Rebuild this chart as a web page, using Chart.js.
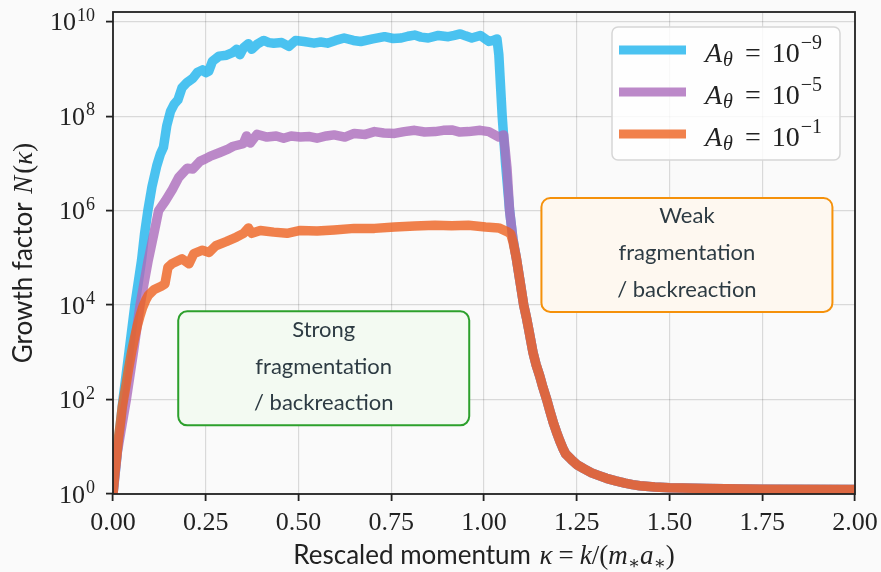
<!DOCTYPE html>
<html><head><meta charset="utf-8">
<script src="https://cdn.jsdelivr.net/npm/chart.js@4.4.1/dist/chart.umd.min.js"></script>
<style>html,body{margin:0;padding:0;background:#fafafa;}canvas{display:block}</style>
</head><body>
<canvas id="c" width="881" height="572"></canvas>
<script>
// ---------------- data ----------------
const seriesExponents = ['\u22129', '\u22125', '\u22121'];   // A_theta = 10^x

const kappaBlue = [0,0.013,0.027,0.043,0.059,0.077,0.085,0.094,0.105,0.118,0.128,0.136,0.145,0.155,0.165,0.175,0.186,0.2,0.215,0.228,0.241,0.25,0.258,0.268,0.286,0.306,0.322,0.333,0.342,0.352,0.365,0.374,0.39,0.406,0.42,0.433,0.455,0.474,0.492,0.515,0.542,0.56,0.578,0.6,0.623,0.648,0.668,0.7,0.732,0.755,0.777,0.795,0.813,0.83,0.85,0.877,0.904,0.92,0.936,0.95,0.967,0.99,1.013,1.025,1.035,1.04,1.049,1.058,1.069,1.078];
const nBlue = [1,10,100,1e3,1e4,8.9e4,3.2e5,1e6,3.2e6,8.9e6,1.6e7,2.2e7,6.3e7,1.26e8,1.8e8,2.2e8,4.0e8,5.2e8,6.3e8,8.5e8,9.5e8,8.3e8,8.9e8,1.45e9,1.86e9,1.95e9,2.2e9,2.6e9,2.0e9,2.8e9,3.4e9,2.6e9,3.4e9,4.0e9,3.6e9,3.5e9,3.6e9,3.0e9,4.0e9,3.8e9,3.5e9,3.7e9,3.5e9,4.0e9,4.5e9,4.0e9,3.8e9,4.3e9,4.8e9,4.4e9,4.5e9,4.9e9,5.2e9,4.7e9,4.5e9,5.1e9,4.8e9,5.1e9,5.5e9,5.0e9,4.5e9,5.1e9,3.8e9,4.0e9,4.3e9,2.0e9,1e8,1e7,1e6,2.5e5];

const kappaPurple = [0,0.012,0.036,0.055,0.073,0.095,0.11,0.123,0.141,0.16,0.177,0.2,0.215,0.234,0.25,0.261,0.288,0.31,0.324,0.351,0.36,0.37,0.388,0.415,0.44,0.46,0.48,0.505,0.53,0.55,0.575,0.596,0.625,0.65,0.68,0.705,0.73,0.759,0.785,0.813,0.84,0.868,0.89,0.913,0.935,0.958,0.99,1.013,1.04,1.053,1.062,1.069,1.078];
const nPurple = [1,8,100,1e3,1e4,8.9e4,3.2e5,1e6,1.6e6,2.8e6,5e6,7.9e6,7.6e6,1.1e7,1.26e7,1.4e7,1.7e7,2.0e7,2.3e7,2.6e7,3.8e7,2.7e7,4.1e7,3.6e7,3.8e7,3.4e7,3.8e7,3.6e7,3.7e7,3.4e7,3.8e7,4.0e7,3.6e7,4.3e7,4.1e7,4.7e7,4.4e7,4.3e7,4.7e7,5.0e7,4.6e7,4.7e7,5.0e7,5.1e7,4.6e7,4.7e7,5.0e7,4.7e7,3.6e7,4.0e7,7.9e6,1e6,2.5e5];

const kappaOrange = [0,0.005,0.01,0.015,0.02,0.025,0.035,0.042,0.05,0.058,0.065,0.072,0.08,0.088,0.095,0.11,0.13,0.14,0.148,0.16,0.186,0.205,0.218,0.241,0.259,0.277,0.305,0.333,0.352,0.365,0.374,0.397,0.433,0.469,0.505,0.55,0.596,0.65,0.705,0.759,0.813,0.868,0.913,0.958,1.004,1.04,1.062,1.072,1.078];
const nOrange = [1,2.8,6.3,16,32,70,200,450,1e3,2e3,3.5e3,5.6e3,8.9e3,1.26e4,1.6e4,2.1e4,2.5e4,2.8e4,6.3e4,7.6e4,9.5e4,7.5e4,1.23e5,1.45e5,1.3e5,1.8e5,2.2e5,2.75e5,3.3e5,4.3e5,3.3e5,3.8e5,3.5e5,3.3e5,3.8e5,3.7e5,3.9e5,4.2e5,4.2e5,4.5e5,4.7e5,4.9e5,4.8e5,4.9e5,4.5e5,4.3e5,3.6e5,3.2e5,2.2e5];

// common decay shared by all three curves
const kappaTail = [1.087,1.097,1.107,1.114,1.12,1.126,1.132,1.14,1.15,1.159,1.169,1.178,1.187,1.195,1.204,1.212,1.22,1.235,1.25,1.27,1.29,1.31,1.33,1.355,1.38,1.4,1.42,1.46,1.5,1.6,1.75,2.0];
const nTail = [1e5,3.2e4,1e4,5600,3200,1780,1e3,560,320,178,100,56,32,21,13.5,9.5,7.1,5.4,4.2,3.4,2.8,2.45,2.15,1.9,1.7,1.58,1.5,1.41,1.35,1.3,1.26,1.24];

const xTickValues = [0,0.25,0.5,0.75,1.0,1.25,1.5,1.75,2.0];
const xTickLabels = ['0.00','0.25','0.50','0.75','1.00','1.25','1.50','1.75','2.00'];
const yTickValues = [1,1e2,1e4,1e6,1e8,1e10];
const yTickExps = ['0','2','4','6','8','10'];

const boxLinesStrong = ['Strong','fragmentation','/ backreaction'];
const boxLinesWeak = ['Weak','fragmentation','/ backreaction'];
const boxAnchorStrong = [0.568, 457];     // data coords of box centre
const boxAnchorWeak = [1.547, 1.15e5];

// ---------------- styles ----------------
const COLORS = ['rgba(30,180,238,0.8)','rgba(171,107,187,0.8)','rgba(238,98,31,0.8)'];
const SERIF = '"Liberation Serif","DejaVu Serif",serif';
const SANS = 'Lato,"Open Sans",sans-serif';
const TXT = '#222';

const pts = (xs, ys) => xs.map((x, i) => ({x, y: ys[i]}));
const datasets = [
  {label: 'A_θ = 10^-9', data: pts(kappaBlue.concat(kappaTail), nBlue.concat(nTail)), borderColor: COLORS[0], order: 3},
  {label: 'A_θ = 10^-5', data: pts(kappaPurple.concat(kappaTail), nPurple.concat(nTail)), borderColor: COLORS[1], order: 2},
  {label: 'A_θ = 10^-1', data: pts(kappaOrange.concat(kappaTail), nOrange.concat(nTail)), borderColor: COLORS[2], order: 1},
].map(d => Object.assign(d, {borderWidth: 9.5, pointRadius: 0, tension: 0, fill: false,
  borderJoinStyle: 'round', borderCapStyle: 'round', clip: 0}));

function drawRich(ctx, segs, x, y, align) {
  let w = 0;
  const ws = segs.map(s => { ctx.font = s.f; const m = ctx.measureText(s.t).width + (s.gap || 0); w += m; return m; });
  let cx = align === 'center' ? x - w / 2 : align === 'right' ? x - w : x;
  ctx.textAlign = 'left'; ctx.textBaseline = 'alphabetic';
  segs.forEach((s, i) => { ctx.font = s.f; ctx.fillText(s.t, cx + (s.pre || 0), y + (s.dy || 0)); cx += ws[i]; });
}

function drawBox(ctx, chart, anchor, lines, stroke, fillc) {
  const xs = chart.scales.x, ys = chart.scales.y;
  const cx = xs.getPixelForValue(anchor[0]), cy = ys.getPixelForValue(anchor[1]);
  const w = 291, h = 114;
  ctx.save();
  ctx.beginPath(); ctx.roundRect(cx - w / 2, cy - h / 2, w, h, 9);
  ctx.fillStyle = fillc; ctx.fill();
  ctx.lineWidth = 2; ctx.strokeStyle = stroke; ctx.stroke();
  ctx.fillStyle = '#2d3b43'; ctx.font = '22px ' + SANS; ctx.textAlign = 'center'; ctx.textBaseline = 'alphabetic';
  const offs = [-31.5, 5.5, 42];
  lines.forEach((t, i) => ctx.fillText(t, cx, cy + offs[i]));
  ctx.restore();
}

const decor = {
  id: 'decor',
  beforeDraw(chart) {
    const ctx = chart.ctx; ctx.save(); ctx.fillStyle = '#fafafa'; ctx.fillRect(0, 0, chart.width, chart.height); ctx.restore();
  },
  afterDatasetsDraw(chart) {
    const ctx = chart.ctx, a = chart.chartArea;
    ctx.save();
    ctx.strokeStyle = '#222'; ctx.lineWidth = 1.8;
    ctx.strokeRect(a.left, a.top, a.right - a.left, a.bottom - a.top);
    ctx.restore();
    drawBox(ctx, chart, boxAnchorStrong, boxLinesStrong, 'rgb(44,160,44)', '#f3faf2');
    drawBox(ctx, chart, boxAnchorWeak, boxLinesWeak, 'rgb(245,145,10)', '#fef8f0');
    // legend
    ctx.save();
    ctx.beginPath(); ctx.roundRect(612, 27, 228, 133, 6);
    ctx.fillStyle = 'rgba(255,255,255,0.8)'; ctx.fill();
    ctx.lineWidth = 1.5; ctx.strokeStyle = 'rgb(214,214,214)'; ctx.stroke();
    const rows = [50, 92, 134];
    chart.data.datasets.forEach((d, i) => {
      const y = rows[i];
      ctx.beginPath(); ctx.moveTo(619, y); ctx.lineTo(686, y);
      ctx.lineWidth = 9; ctx.lineCap = 'butt'; ctx.strokeStyle = d.borderColor; ctx.stroke();
      ctx.fillStyle = TXT;
      drawRich(ctx, [
        {t: 'A', f: 'italic 28px ' + SERIF, gap: 1},
        {t: 'θ', f: 'italic 20px ' + SERIF, dy: 4, gap: 12},
        {t: '=', f: '28px ' + SERIF, gap: 11},
        {t: '10', f: '28px ' + SERIF, gap: 1},
        {t: seriesExponents[i], f: '20px ' + SERIF, dy: -13},
      ], 705, y + 11.5, 'left');
    });
    ctx.restore();
  },
  afterDraw(chart) {
    const ctx = chart.ctx, xs = chart.scales.x, ys = chart.scales.y, a = chart.chartArea;
    ctx.save();
    ctx.fillStyle = TXT;
    ctx.font = '26px ' + SERIF; ctx.textAlign = 'center'; ctx.textBaseline = 'alphabetic';
    xTickValues.forEach((v, i) => ctx.fillText(xTickLabels[i], xs.getPixelForValue(v), 530));
    yTickValues.forEach((v, i) => {
      const py = ys.getPixelForValue(v);
      drawRich(ctx, [{t: '10', f: '26px ' + SERIF, gap: 1}, {t: yTickExps[i], f: '18px ' + SERIF, dy: -9.5}], 95, py + 8.8, 'right');
    });
    // x title
    const MI = 'italic 27px ' + SERIF, MU = '27px ' + SERIF, MS = '18px ' + SERIF;
    drawRich(ctx, [
      {t: 'Rescaled momentum ', f: '26px ' + SANS, gap: 2},
      {t: 'κ', f: MI, gap: 6}, {t: '=', f: MU, gap: 6},
      {t: 'k', f: MI}, {t: '/(', f: MU}, {t: 'm', f: MI}, {t: '∗', f: MS, dy: 5},
      {t: 'a', f: MI}, {t: '∗', f: MS, dy: 5}, {t: ')', f: MU},
    ], (a.left + a.right) / 2, 564, 'center');
    // y title
    ctx.translate(32, (a.top + a.bottom) / 2);
    ctx.rotate(-Math.PI / 2);
    drawRich(ctx, [
      {t: 'Growth factor ', f: '26px ' + SANS, gap: 2},
      {t: 'N', f: MI, gap: 2}, {t: '(', f: MU}, {t: 'κ', f: MI}, {t: ')', f: MU},
    ], 0, 0, 'center');
    ctx.restore();
  }
};

const gridOpts = {color: 'rgba(0,0,0,0.13)', lineWidth: 1.2, tickColor: '#222', tickLength: 7, tickWidth: 1.8, drawTicks: true};

new Chart(document.getElementById('c'), {
  type: 'line',
  data: {datasets},
  options: {
    responsive: false, animation: false, devicePixelRatio: 1,
    layout: {padding: {top: 12, right: 26, left: 0, bottom: 0}},
    plugins: {legend: {display: false}, tooltip: {enabled: false}},
    scales: {
      x: {type: 'linear', min: 0, max: 2,
          afterBuildTicks: s => { s.ticks = xTickValues.map(v => ({value: v})); },
          ticks: {display: false}, grid: gridOpts, border: {display: false},
          afterFit: s => { s.height = 78; }},
      y: {type: 'logarithmic', min: 1, max: 1.6e10,
          afterBuildTicks: s => { s.ticks = yTickValues.map(v => ({value: v})); },
          ticks: {display: false}, grid: gridOpts, border: {display: false},
          afterFit: s => { s.width = 113; }}
    }
  },
  plugins: [decor]
});
</script>
</body></html>
